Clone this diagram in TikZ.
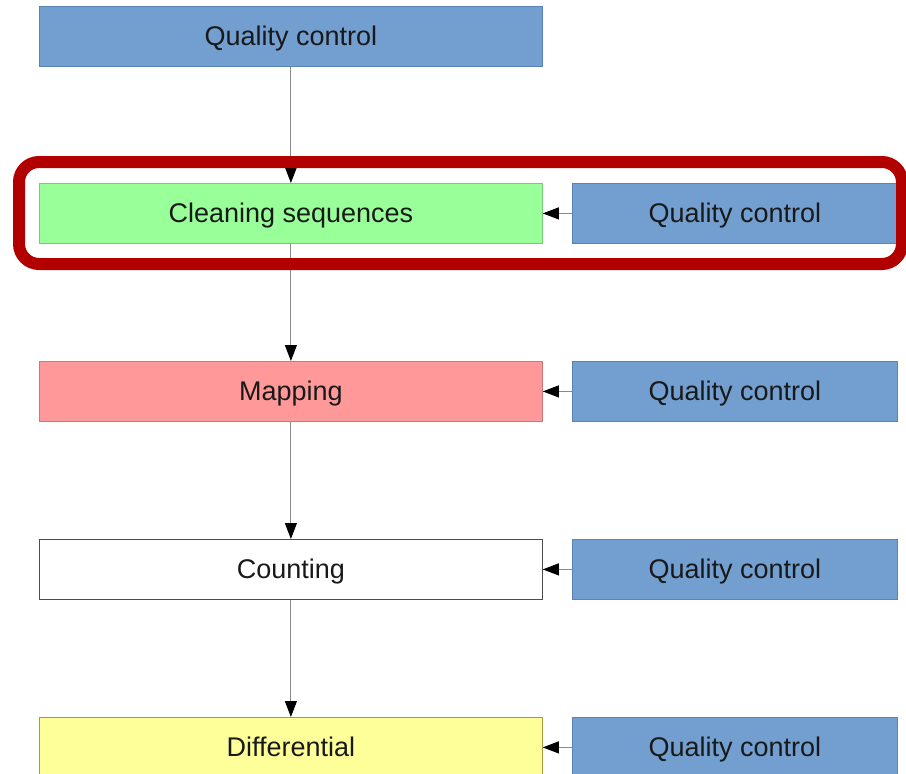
\documentclass[tikz,border=0pt]{standalone}
\usepackage{fontspec}
\setmainfont{Liberation Sans}
\usetikzlibrary{arrows.meta}
\definecolor{qcblue}{HTML}{729FCF}
\definecolor{qcblueb}{HTML}{5A83B5}
\definecolor{clgreen}{HTML}{99FF99}
\definecolor{clgreenb}{HTML}{77CC77}
\definecolor{mppink}{HTML}{FF9999}
\definecolor{mppinkb}{HTML}{CC7777}
\definecolor{dfyellow}{HTML}{FFFF99}
\definecolor{dfyellowb}{HTML}{AA9944}
\definecolor{hlred}{HTML}{B20000}
\definecolor{linegray}{HTML}{8A8A8A}
\tikzset{
  stage/.style={draw, line width=0.8pt, minimum width=503pt, minimum height=60pt, inner sep=0pt, text height=20pt, text depth=2pt, font=\fontsize{27}{32}\selectfont, text=black!90},
  qc/.style={stage, fill=qcblue, draw=qcblueb, minimum width=325pt},
  flow/.style={draw=linegray, line width=0.9pt, -{Triangle[length=16pt,width=12pt,color=black]}},
}
\begin{document}
\begin{tikzpicture}[x=1pt,y=-1pt]
\useasboundingbox (0,0) rectangle (906,774);
\clip (0,0) rectangle (906,774);
\node[qc, minimum width=503pt, anchor=north west] (top) at (39,6) {Quality control};
\node[stage, fill=clgreen, draw=clgreenb, anchor=north west] (clean) at (39,183) {Cleaning sequences};
\node[stage, fill=mppink, draw=mppinkb, anchor=north west] (map) at (39,361) {Mapping};
\node[stage, fill=white, draw=black!70, anchor=north west] (count) at (39,539) {Counting};
\node[stage, fill=dfyellow, draw=dfyellowb, anchor=north west] (diff) at (39,717) {Differential};
\node[qc, anchor=north west] (qc1) at (572,183) {Quality control};
\node[qc, anchor=north west] (qc2) at (572,361) {Quality control};
\node[qc, anchor=north west] (qc3) at (572,539) {Quality control};
\node[qc, anchor=north west] (qc4) at (572,717) {Quality control};
\draw[flow] (top.south) -- (clean.north);
\draw[flow] (clean.south) -- (map.north);
\draw[flow] (map.south) -- (count.north);
\draw[flow] (count.south) -- (diff.north);
\draw[flow] (qc1.west) -- (clean.east);
\draw[flow] (qc2.west) -- (map.east);
\draw[flow] (qc3.west) -- (count.east);
\draw[flow] (qc4.west) -- (diff.east);
\coordinate (hlA) at (19,162);
\coordinate (hlB) at (902,264);
\draw[hlred, line width=12pt, rounded corners=20pt] (hlA) rectangle (hlB);
\end{tikzpicture}
\end{document}
